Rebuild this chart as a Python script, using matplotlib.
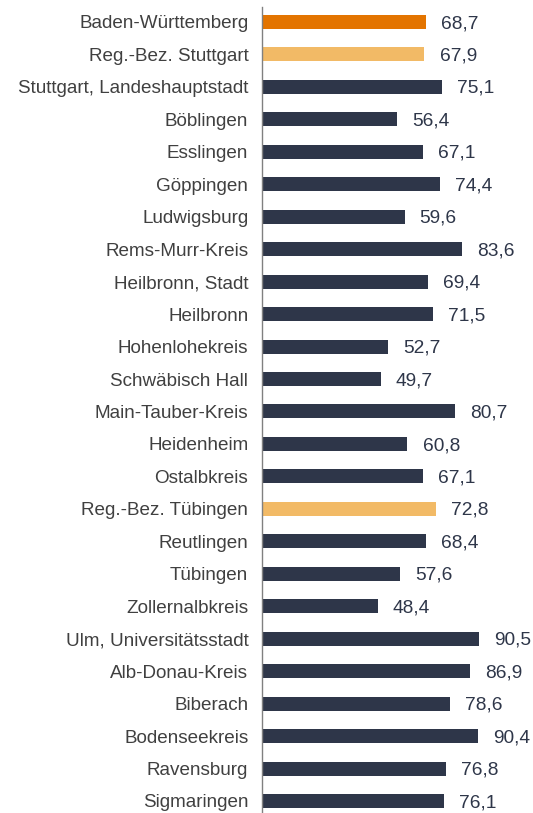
import matplotlib
matplotlib.use("Agg")
import matplotlib.pyplot as plt

regions = [
    "Baden-Württemberg", "Reg.-Bez. Stuttgart", "Stuttgart, Landeshauptstadt",
    "Böblingen", "Esslingen", "Göppingen", "Ludwigsburg", "Rems-Murr-Kreis",
    "Heilbronn, Stadt", "Heilbronn", "Hohenlohekreis", "Schwäbisch Hall",
    "Main-Tauber-Kreis", "Heidenheim", "Ostalbkreis", "Reg.-Bez. Tübingen",
    "Reutlingen", "Tübingen", "Zollernalbkreis", "Ulm, Universitätsstadt",
    "Alb-Donau-Kreis", "Biberach", "Bodenseekreis", "Ravensburg", "Sigmaringen",
]
values = [
    68.7, 67.9, 75.1, 56.4, 67.1, 74.4, 59.6, 83.6, 69.4, 71.5, 52.7, 49.7,
    80.7, 60.8, 67.1, 72.8, 68.4, 57.6, 48.4, 90.5, 86.9, 78.6, 90.4, 76.8, 76.1,
]
# level of each row: land, regierungsbezirk or kreis
levels = [
    "land", "bezirk", "kreis", "kreis", "kreis", "kreis", "kreis", "kreis",
    "kreis", "kreis", "kreis", "kreis", "kreis", "kreis", "kreis", "bezirk",
    "kreis", "kreis", "kreis", "kreis", "kreis", "kreis", "kreis", "kreis", "kreis",
]

level_colors = {"land": "#E37400", "bezirk": "#F2BA66", "kreis": "#2E3649"}
colors = [level_colors[lv] for lv in levels]

plt.rcParams["font.family"] = ["Liberation Sans", "DejaVu Sans"]

W, H, DPI = 533, 813, 100
fig = plt.figure(figsize=(W / DPI, H / DPI), dpi=DPI)
ax = fig.add_axes([261.5 / W, 0.0, 1 - 261.5 / W, (H - 7) / H])

y = list(range(len(regions)))
ax.barh(y, values, height=0.43, color=colors, zorder=2)

for yi, v in zip(y, values):
    ax.text(v + 6.3, yi + 0.05, f"{v:.1f}".replace(".", ","), ha="left", va="center",
            fontsize=13.8, color="#2E3649")

ax.set_xlim(0, (W - 261.5) / 2.4)
ax.set_ylim(len(regions) - 1 + 0.37, -0.46)
ax.set_yticks(y)
ax.set_yticklabels(regions, fontsize=13.6, color="#404040")
ax.tick_params(axis="y", length=0, pad=9.5)
ax.set_xticks([])

for side in ["top", "right", "bottom"]:
    ax.spines[side].set_visible(False)
ax.spines["left"].set_color("#808080")
ax.spines["left"].set_linewidth(1.0)

fig.savefig("out.png", dpi=DPI)
